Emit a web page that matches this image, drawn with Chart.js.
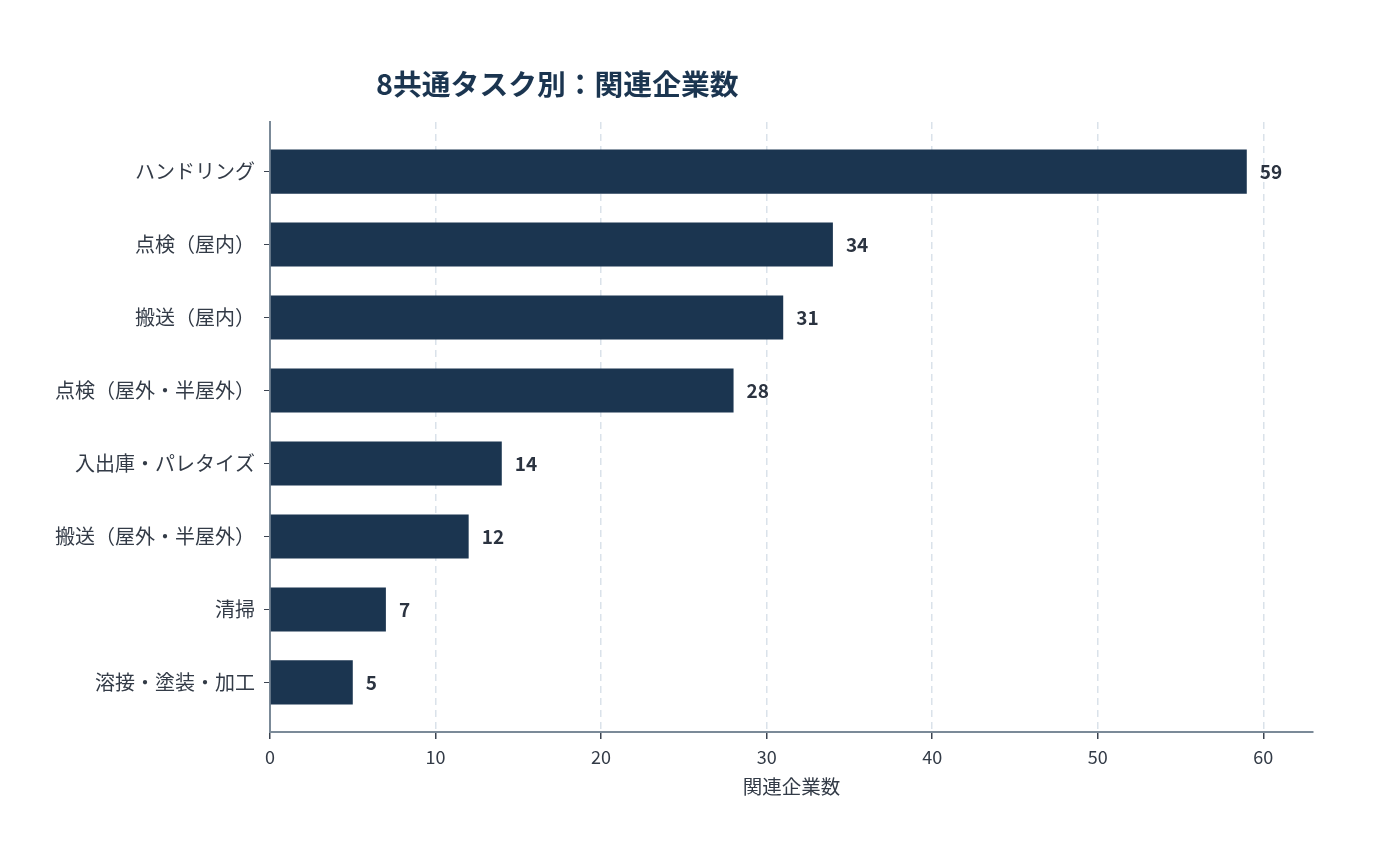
<!DOCTYPE html>
<html><head><meta charset="utf-8">
<script src="https://cdn.jsdelivr.net/npm/chart.js@4.4.1/dist/chart.umd.min.js"></script>
<style>html,body{margin:0;padding:0;background:#fff;}#wrap{width:1389px;height:849px;position:relative;}</style>
</head><body><div id="wrap"><canvas id="c" width="1389" height="849"></canvas></div>
<script>
const titleText = '8共通タスク別：関連企業数';
const categories = ['ハンドリング','点検（屋内）','搬送（屋内）','点検（屋外・半屋外）','入出庫・パレタイズ','搬送（屋外・半屋外）','清掃','溶接・塗装・加工'];
const companyCounts = [59,34,31,28,14,12,7,5];
const xTickValues = [0,10,20,30,40,50,60];
const xAxisTitle = '関連企業数';

const FONT = "'Noto Sans CJK JP','Noto Sans',sans-serif";
const barColor = '#1b3550';

const titlePlugin = {
  id:'titleDraw',
  afterDraw(chart){
    const ctx = chart.ctx;
    ctx.save();
    ctx.font = "bold 28.8px " + FONT;
    ctx.fillStyle = '#1b3550';
    ctx.textAlign = 'left';
    ctx.textBaseline = 'middle';
    ctx.fillText(titleText, 376, 84);
    ctx.restore();
  }
};
const valuePlugin = {
  id:'valueLabels',
  afterDatasetsDraw(chart){
    const ctx = chart.ctx;
    const meta = chart.getDatasetMeta(0);
    ctx.save();
    ctx.font = "bold 19px " + FONT;
    ctx.fillStyle = '#2b3340';
    ctx.textAlign = 'left';
    ctx.textBaseline = 'middle';
    meta.data.forEach((bar,i)=>{
      ctx.fillText(String(companyCounts[i]), bar.x + 13, bar.y);
    });
    ctx.restore();
  }
};

const points = companyCounts.map((v,i)=>({x:v, y:i}));

new Chart(document.getElementById('c'), {
  type:'bar',
  data:{datasets:[{data:points, backgroundColor:barColor, barPercentage:0.605, categoryPercentage:1.0}]},
  options:{
    indexAxis:'y',
    responsive:false,
    animation:false,
    layout:{padding:{top:122,right:76,left:0,bottom:51}},
    plugins:{legend:{display:false},tooltip:{enabled:false},title:{display:false}},
    scales:{
      x:{
        type:'linear',
        min:0,max:63,
        afterBuildTicks(scale){ scale.ticks = xTickValues.map(v=>({value:v})); },
        grid:{display:true,drawOnChartArea:true,color:'#dae2ea',lineWidth:1.5,tickColor:'#3a4350',tickLength:7},
        border:{display:true,color:'#7b8a98',width:2,dash:[7,5]},
        ticks:{color:'#333b47',font:{family:FONT,size:18},padding:7},
        title:{display:true,text:xAxisTitle,color:'#333b47',font:{family:FONT,size:19.5},padding:{top:0,bottom:0}}
      },
      y:{
        type:'linear',
        reverse:true,
        offset:false,
        min:-0.679,max:7.679,
        afterBuildTicks(scale){ scale.ticks = categories.map((c,i)=>({value:i})); },
        afterFit(scale){ scale.width = 270; },
        border:{display:true,color:'#7b8a98',width:2},
        grid:{offset:false,drawOnChartArea:false,drawTicks:true,tickColor:'#3a4350',tickLength:6},
        ticks:{color:'#333b47',font:{family:FONT,size:20},padding:9,autoSkip:false,callback:(v)=>categories[v]}
      }
    }
  },
  plugins:[titlePlugin,valuePlugin]
});
</script></body></html>
